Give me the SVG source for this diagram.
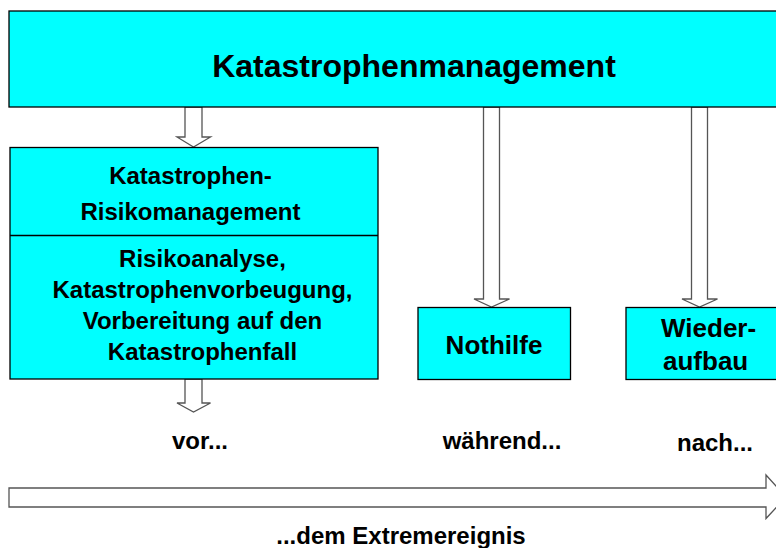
<svg xmlns="http://www.w3.org/2000/svg" width="776" height="548" viewBox="0 0 776 548">
<style>
.box{fill:#00FFFF;stroke:#000;stroke-width:1.3}
.arr{fill:#fff;stroke:#555;stroke-width:1.3;stroke-linejoin:miter}
text{font-family:"Liberation Sans",Arial,sans-serif;font-weight:bold;fill:#000}
.t24{font-size:24px}
.t26{font-size:26px}
.mid{text-anchor:middle}
</style>
<rect width="776" height="548" fill="#fff"/>
<g id="connectors">
<polygon class="arr" points="185,107 202,107 202,137 210.5,137 193.5,147 177,137 185,137"/>
<polygon class="arr" points="483.5,107 499.5,107 499.5,299 509.5,299 491.5,307 474,299 483.5,299"/>
<polygon class="arr" points="691.5,107 707.5,107 707.5,299 717.5,299 699.5,307 682,299 691.5,299"/>
<polygon class="arr" points="185,379 202,379 202,403 210.5,403 193.5,412 177,403 185,403"/>
<polygon id="timeline" class="arr" points="9,488 766,488 766,475 786,497 766,518.5 766,507 9,507"/>
</g>
<g id="top">
<rect class="box" x="9" y="11" width="800" height="96"/>
<text x="414" y="77" class="mid" style="font-size:32px">Katastrophenmanagement</text>
</g>
<g id="risk">
<rect class="box" x="10" y="147.5" width="368" height="231.5"/>
<line x1="10" y1="235.5" x2="378" y2="235.5" stroke="#000" stroke-width="1.3"/>
<text x="190.5" y="184" class="t24 mid">Katastrophen-</text>
<text x="190.5" y="220" class="t24 mid">Risikomanagement</text>
<text x="202.5" y="267" class="t24 mid">Risikoanalyse,</text>
<text x="202.5" y="298" class="t24 mid">Katastrophenvorbeugung,</text>
<text x="202.5" y="329" class="t24 mid">Vorbereitung auf den</text>
<text x="202.5" y="360" class="t24 mid">Katastrophenfall</text>
</g>
<g id="nothilfe">
<rect class="box" x="418" y="307.5" width="152.5" height="72"/>
<text x="494" y="354" class="t26 mid">Nothilfe</text>
</g>
<g id="wiederaufbau">
<rect class="box" x="626" y="307.5" width="160" height="72"/>
<text x="661" y="337" class="t26">Wieder-</text>
<text x="663" y="369.5" class="t26">aufbau</text>
</g>
<g id="labels">
<text x="200" y="448.5" class="t24 mid">vor...</text>
<text x="502" y="448.5" class="t24 mid">während...</text>
<text x="715" y="451" class="t24 mid">nach...</text>
<text x="401" y="543.5" class="t24 mid">...dem Extremereignis</text>
</g>
</svg>
